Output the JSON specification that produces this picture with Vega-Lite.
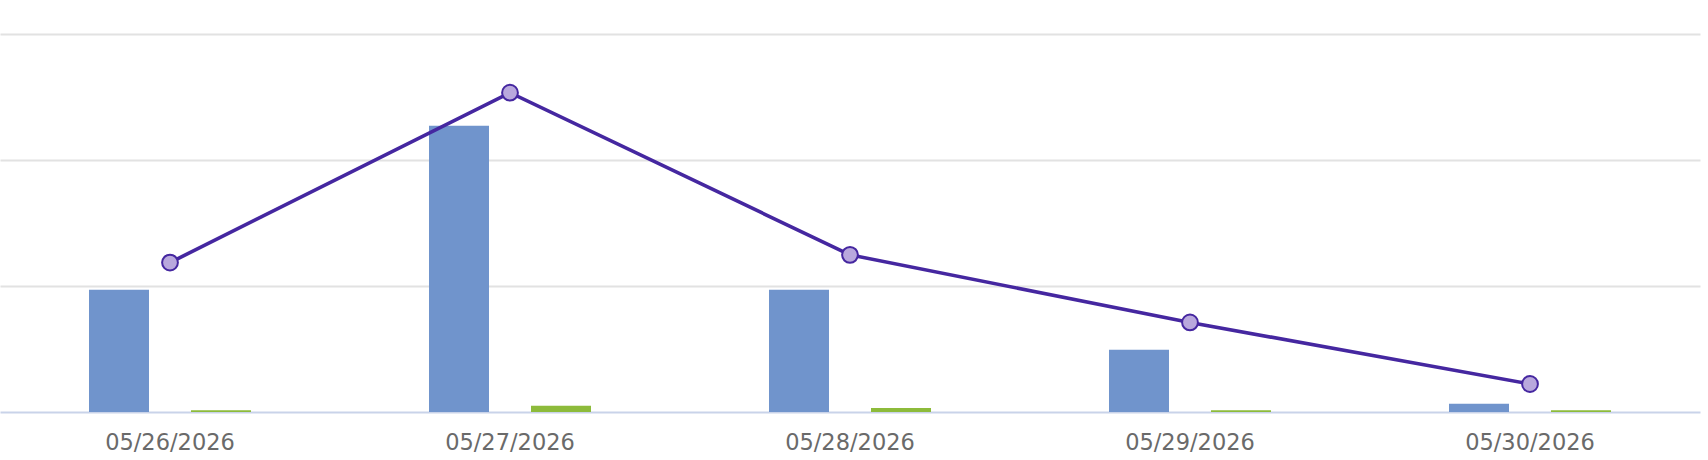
{
  "$schema": "https://vega.github.io/schema/vega-lite/v6.json",
  "width": 1700,
  "height": 412,
  "autosize": {"type": "none"},
  "padding": {"left": 0, "top": 0, "right": 8, "bottom": 48},
  "background": "white",
  "config": {"view": {"stroke": null}},
  "datasets": {
    "bars": [
      {"date": "05/26/2026", "series": "A", "value": 96.9},
      {"date": "05/26/2026", "series": "B", "value": 1.4},
      {"date": "05/27/2026", "series": "A", "value": 226.9},
      {"date": "05/27/2026", "series": "B", "value": 5.0},
      {"date": "05/28/2026", "series": "A", "value": 96.9},
      {"date": "05/28/2026", "series": "B", "value": 3.2},
      {"date": "05/29/2026", "series": "A", "value": 49.4},
      {"date": "05/29/2026", "series": "B", "value": 1.4},
      {"date": "05/30/2026", "series": "A", "value": 6.6},
      {"date": "05/30/2026", "series": "B", "value": 1.4}
    ],
    "line": [
      {"date": "05/26/2026", "value": 118.5},
      {"date": "05/27/2026", "value": 253.2},
      {"date": "05/28/2026", "value": 124.6},
      {"date": "05/29/2026", "value": 71.0},
      {"date": "05/30/2026", "value": 22.2}
    ]
  },
  "encoding": {
    "x": {
      "field": "date",
      "type": "nominal",
      "sort": null,
      "scale": {"paddingInner": 0, "paddingOuter": 0},
      "axis": {
        "title": null,
        "labelAngle": 0,
        "ticks": false,
        "grid": false,
        "domain": true,
        "domainColor": "#c9d3e9",
        "domainWidth": 2,
        "labelFont": "DejaVu Sans",
        "labelFontSize": 22.5,
        "labelColor": "#6a6a6a",
        "labelBaseline": "alphabetic",
        "labelPadding": 37
      }
    },
    "y": {
      "field": "value",
      "type": "quantitative",
      "scale": {"domain": [0, 326.7], "nice": false, "zero": true},
      "axis": {
        "title": null,
        "labels": false,
        "ticks": false,
        "domain": false,
        "grid": true,
        "values": [100, 200, 300],
        "gridColor": "#e2e2e2",
        "gridWidth": 2
      }
    }
  },
  "layer": [
    {
      "data": {"name": "bars"},
      "mark": {"type": "bar"},
      "encoding": {
        "xOffset": {
          "field": "series",
          "type": "nominal",
          "scale": {"paddingInner": 0.4118, "paddingOuter": 0.8725}
        },
        "color": {
          "field": "series",
          "type": "nominal",
          "scale": {"domain": ["A", "B"], "range": ["#7094cc", "#8dbb3b"]},
          "legend": null
        }
      }
    },
    {
      "data": {"name": "line"},
      "mark": {"type": "line", "color": "#4527a0", "strokeWidth": 3.6},
      "encoding": {}
    },
    {
      "data": {"name": "line"},
      "mark": {"type": "point", "shape": "circle", "filled": true, "fill": "#b9a8dd", "stroke": "#4527a0", "strokeWidth": 2, "size": 250, "opacity": 1},
      "encoding": {}
    }
  ]
}
